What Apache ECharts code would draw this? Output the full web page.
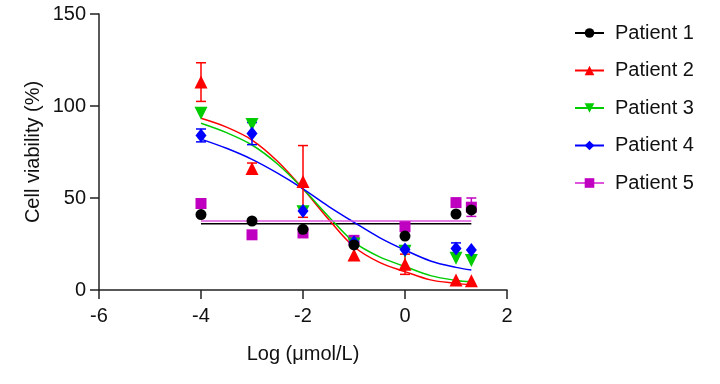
<!DOCTYPE html>
<html>
<head>
<meta charset="utf-8">
<script src="https://cdn.jsdelivr.net/npm/echarts@6/dist/echarts.min.js"></script>
<style>html,body{margin:0;padding:0;background:#fff}#c{width:720px;height:384px}</style>
</head>
<body>
<div id="c"></div>
<script>
// Doses (log µmol/L)
var doseX = [-4, -3, -2, -1, 0, 1, 1.301];
var names = ['Patient 1', 'Patient 2', 'Patient 3', 'Patient 4', 'Patient 5'];
// Measured means (%)
var p1 = [41, 37.5, 33, 24.5, 29.3, 41.3, 43.5];
var p2 = [113, 66, 59, 19, 14, 5.4, 5];
var p3 = [96, 90, 42.5, 25, 21, 17.2, 16];
var p4 = [84, 85, 43, 26, 22, 22.6, 21.7];
var p5 = [47, 30, 31, 27, 34.4, 47.5, 45];
// Error bar half-widths (%)
var p1err = [0, 0, 0, 0, 0, 0, 0];
var p2err = [10.5, 3, 19.5, 0, 5.5, 0, 0];
var p3err = [0, 0, 0, 0, 0, 0, 0];
var p4err = [3.5, 6, 0, 0, 0, 3, 0];
var p5err = [0, 0, 0, 0, 0, 0, 5];
// Fitted curves
var curveX = [-4, -3.5, -3, -2.5, -2, -1.5, -1, -0.5, 0, 0.5, 1, 1.301];
var fit2 = [93.3, 88.5, 81.5, 70, 55, 38.5, 23.5, 15, 10, 5.5, 3.6, 2.8];
var fit3 = [90.6, 85.5, 78.8, 68.5, 55, 40, 26, 18, 12.8, 7.8, 5.2, 4.5];
var fit4 = [82, 77, 71, 63.5, 55, 45.5, 36.8, 28.5, 21.7, 15.8, 12.3, 10.9];
var fitX1 = [-4, 1.301];
var fit1 = [36, 36];
var fit5 = [37.5, 37.5];
// Axis ticks
var xTicks = [-6, -4, -2, 0, 2];
var yTicks = [0, 50, 100, 150];

var markerColors = ['#000000', '#ff0000', '#00cc00', '#0000ff', '#c000c0'];
var lineColors = ['#000000', '#ff0000', '#00cc00', '#0000ff', '#dd55dd'];
var symbols = ['circle', 'triangle', 'path://M0,0 L10,0 L5,9 Z', 'diamond', 'rect'];
var symSizes = [11, 13, 13, [11, 14], 11];

var means = [p1, p2, p3, p4, p5];
var errs = [p1err, p2err, p3err, p4err, p5err];
var fitsX = [fitX1, curveX, curveX, curveX, fitX1];
var fitsY = [fit1, fit2, fit3, fit4, fit5];

function pairs(xs, ys) { return xs.map(function (x, i) { return [x, ys[i]]; }); }

var series = [];
// curves (legend uses these)
for (var k = 0; k < 5; k++) {
  series.push({
    name: names[k], type: 'line', data: pairs(fitsX[k], fitsY[k]),
    smooth: (k === 0 || k === 4) ? false : 0.35,
    symbol: symbols[k], symbolSize: symSizes[k], showSymbol: false,
    lineStyle: { color: lineColors[k], width: 1.5 },
    itemStyle: { color: markerColors[k] },
    silent: true, z: 2
  });
}
// error bars
for (var k = 0; k < 5; k++) {
  var ed = [];
  for (var i = 0; i < doseX.length; i++) {
    if (errs[k][i] > 0) ed.push([doseX[i], means[k][i] - errs[k][i], means[k][i] + errs[k][i]]);
  }
  (function (col) {
    series.push({
      name: names[k], type: 'custom', data: ed, z: 3,
      renderItem: function (params, api) {
        var x = api.value(0);
        var lo = api.coord([x, api.value(1)]);
        var hi = api.coord([x, api.value(2)]);
        var hw = 5;
        var st = { stroke: col, lineWidth: 1.5 };
        return {
          type: 'group', children: [
            { type: 'line', shape: { x1: lo[0], y1: lo[1], x2: hi[0], y2: hi[1] }, style: st },
            { type: 'line', shape: { x1: lo[0] - hw, y1: lo[1], x2: lo[0] + hw, y2: lo[1] }, style: st },
            { type: 'line', shape: { x1: hi[0] - hw, y1: hi[1], x2: hi[0] + hw, y2: hi[1] }, style: st }
          ]
        };
      }
    });
  })(markerColors[k]);
}
// data points
var order = [4, 2, 3, 1, 0];
order.forEach(function (k) {
  series.push({
    name: names[k], type: 'scatter', data: pairs(doseX, means[k]),
    symbol: symbols[k], symbolSize: symSizes[k],
    itemStyle: { color: markerColors[k], opacity: 1 }, z: 4
  });
});

var font = 'Liberation Sans, Arial, sans-serif';
var chart = echarts.init(document.getElementById('c'), null, { renderer: 'canvas' });
chart.setOption({
  animation: false,
  backgroundColor: '#ffffff',
  grid: { left: 99, right: 213, top: 14, bottom: 94, containLabel: false },
  xAxis: {
    type: 'value', min: xTicks[0], max: xTicks[xTicks.length - 1], interval: 2,
    name: 'Log (\u03bcmol/L)', nameLocation: 'middle', nameGap: 54, nameMoveOverlap: false,
    nameTextStyle: { fontFamily: font, fontSize: 20, color: '#111' },
    axisLine: { show: true, onZero: false, lineStyle: { color: '#222', width: 1.5 } },
    axisTick: { show: true, inside: false, length: 9, lineStyle: { color: '#222', width: 1.5 } },
    axisLabel: { fontFamily: font, fontSize: 20, color: '#111', margin: 16 },
    splitLine: { show: false }
  },
  yAxis: {
    type: 'value', min: yTicks[0], max: yTicks[yTicks.length - 1], interval: 50,
    name: 'Cell viability (%)', nameLocation: 'middle', nameGap: 56, nameRotate: 90, nameMoveOverlap: false,
    nameTextStyle: { fontFamily: font, fontSize: 20, color: '#111' },
    axisLine: { show: true, onZero: false, lineStyle: { color: '#222', width: 1.5 } },
    axisTick: { show: true, inside: false, length: 9, lineStyle: { color: '#222', width: 1.5 } },
    axisLabel: { fontFamily: font, fontSize: 20, color: '#111', margin: 13 },
    splitLine: { show: false }
  },
  legend: {
    orient: 'vertical', left: 569, top: 18,
    data: names, itemWidth: 29, itemHeight: 12, itemGap: 17.5,
    textStyle: { fontFamily: font, fontSize: 20, color: '#111', lineHeight: 20, padding: [0, 0, 0, 6] },
    selectedMode: false
  },
  series: series
});
</script>
</body>
</html>
